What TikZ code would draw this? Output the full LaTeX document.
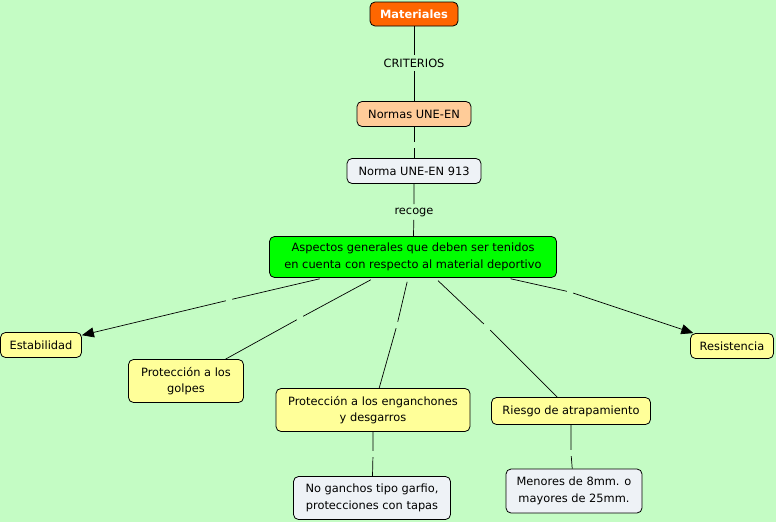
\documentclass[tikz,border=0pt]{standalone}
\usepackage{fontspec}
\setmainfont{DejaVu Sans}
\usepackage{xcolor}
\usetikzlibrary{arrows.meta, positioning}

\definecolor{cmback}{RGB}{196,252,196}
\definecolor{cmorange}{RGB}{255,102,0}
\definecolor{cmpeach}{RGB}{255,204,153}
\definecolor{cmgray}{RGB}{238,242,246}
\definecolor{cmgreen}{RGB}{0,255,0}
\definecolor{cmyellow}{RGB}{255,255,153}

\begin{document}
\begin{tikzpicture}[
  x=1pt, y=-1pt,
  every node/.style={font=\fontsize{11.4}{16.5}\selectfont},
  box/.style={draw, rounded corners=5pt, align=center, inner sep=1pt, line width=0.8pt},
  top/.style={box, fill=cmorange, text=white, font=\fontsize{11.4}{16.5}\selectfont\bfseries},
  peach/.style={box, fill=cmpeach},
  grey/.style={box, fill=cmgray},
  main/.style={box, fill=cmgreen},
  leaf/.style={box, fill=cmyellow},
  gap/.style={inner sep=0pt, minimum size=6pt},
  lnk/.style={line width=0.7pt},
  arr/.style={lnk, -{Triangle[length=12pt, width=10pt]}},
]
\useasboundingbox[fill=cmback] (0,0) rectangle (776,522);

% concepts
\node[top, minimum width=88, minimum height=24] (mat) at (414,14) {Materiales};
\node[peach, minimum width=114, minimum height=25] (normas) at (414,114) {Normas UNE-EN};
\node[grey, minimum width=134, minimum height=25] (norma913) at (414,171) {Norma UNE-EN 913};
\node[main, minimum width=287, minimum height=41] (asp) at (413,257)
  {Aspectos generales que deben ser tenidos\\en cuenta con respecto al material deportivo};
\node[leaf, minimum width=81, minimum height=25] (estab) at (41,345) {Estabilidad};
\node[leaf, minimum width=115, minimum height=43] (golpes) at (186,381) {Protección a los\\golpes};
\node[leaf, minimum width=194, minimum height=43] (engan) at (373,410) {Protección a los enganchones\\y desgarros};
\node[leaf, minimum width=159, minimum height=27] (riesgo) at (571,411) {Riesgo de atrapamiento};
\node[leaf, minimum width=83, minimum height=25] (resist) at (732,346) {Resistencia};
\node[grey, minimum width=157, minimum height=43] (ganchos) at (372,498) {No ganchos tipo garfio,\\protecciones con tapas};
\node[grey, minimum width=136, minimum height=44] (menores) at (574,491) {Menores de 8mm. o\\mayores de 25mm.};

% link labels
\node (criterios) at (414,63) {CRITERIOS};
\node (recoge) at (414,212) {recoge};
\node[gap] (l1) at (414,145) {};
\node[gap] (l2) at (229,300) {};
\node[gap] (l3) at (300,318) {};
\node[gap] (l4) at (397,325) {};
\node[gap] (l5) at (487,327) {};
\node[gap] (l6) at (570,292) {};
\node[gap] (l7) at (373,454) {};
\node[gap] (l8) at (571,453) {};

% links
\draw[lnk] (mat) -- (criterios) -- (normas);
\draw[lnk] (normas) -- (l1) -- (norma913);
\draw[lnk] (norma913) -- (recoge) -- (asp);
\draw[lnk, shorten <=4pt] (asp) -- (l2);
\draw[arr] (l2) -- (estab);
\draw[lnk, shorten <=4pt] (asp) -- (l3);
\draw[lnk] (l3) -- (golpes);
\draw[lnk, shorten <=4pt] (asp) -- (l4);
\draw[lnk] (l4) -- (engan);
\draw[lnk, shorten <=4pt] (asp) -- (l5);
\draw[lnk] (l5) -- (riesgo);
\draw[lnk, shorten <=4pt] (asp) -- (l6);
\draw[arr] (l6) -- (resist);
\draw[lnk] (engan) -- (l7) -- (ganchos);
\draw[lnk] (riesgo) -- (l8) -- (menores);
\end{tikzpicture}
\end{document}
